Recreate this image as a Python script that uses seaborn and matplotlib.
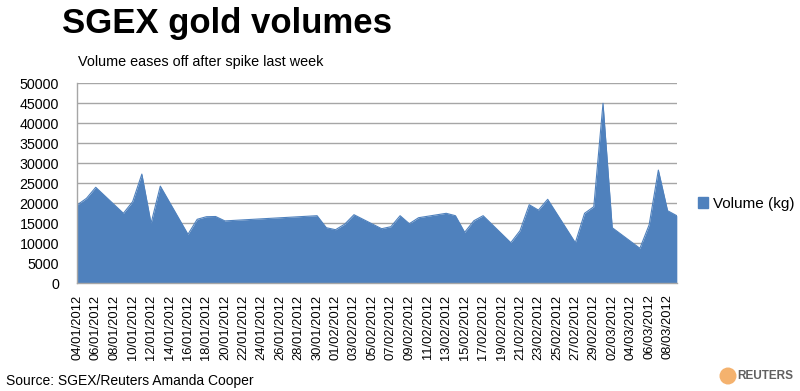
import matplotlib
matplotlib.use("Agg")
import matplotlib.pyplot as plt
from matplotlib.patches import Patch, Ellipse
import seaborn as sns
import pandas as pd

# ---- data ----
dates = [
    "2012-01-04", "2012-01-05", "2012-01-06", "2012-01-09", "2012-01-10",
    "2012-01-11", "2012-01-12", "2012-01-13", "2012-01-16", "2012-01-17",
    "2012-01-18", "2012-01-19", "2012-01-20", "2012-01-30", "2012-01-31",
    "2012-02-01", "2012-02-02", "2012-02-03", "2012-02-06", "2012-02-07",
    "2012-02-08", "2012-02-09", "2012-02-10", "2012-02-13", "2012-02-14",
    "2012-02-15", "2012-02-16", "2012-02-17", "2012-02-20", "2012-02-21",
    "2012-02-22", "2012-02-23", "2012-02-24", "2012-02-27", "2012-02-28",
    "2012-02-29", "2012-03-01", "2012-03-02", "2012-03-05", "2012-03-06",
    "2012-03-07", "2012-03-08", "2012-03-09",
]
volume_kg = [
    19600, 21250, 24000, 17500, 20400,
    27300, 15000, 24300, 12250, 16000,
    16650, 16700, 15600, 16900, 13900,
    13400, 14800, 17150, 13650, 14150,
    16900, 14900, 16400, 17500, 16900,
    12750, 15650, 16900, 10150, 13150,
    19650, 18300, 21000, 10150, 17500,
    19150, 45000, 13900, 8750, 14600,
    28300, 18150, 16900,
]
series_label = "Volume (kg)"
title = "SGEX gold volumes"
subtitle = "Volume eases off after spike last week"
source = "Source: SGEX/Reuters Amanda Cooper"
brand = "REUTERS"
y_ticks = list(range(0, 50001, 5000))
x_tick_start, x_tick_end = "2012-01-04", "2012-03-08"

df = pd.DataFrame({"date": pd.to_datetime(dates), "volume": volume_kg})

# ---- style ----
sns.set_style("white")
plt.rcParams["font.family"] = ["Liberation Sans", "DejaVu Sans"]
plt.rcParams["text.color"] = "black"

blue = "#4F81BD"
grid = "#A6A6A6"

fig = plt.figure(figsize=(8.0, 3.91), dpi=100)
ax = fig.add_axes([0.0966, 0.2754, 0.846 - 0.0966, 0.787 - 0.2754])

sns.lineplot(data=df, x="date", y="volume", ax=ax, color=blue, linewidth=0.8)
ax.fill_between(df["date"], df["volume"], 0, color=blue, linewidth=0)

ax.set_xlim(df["date"].iloc[0], df["date"].iloc[-1])
ax.set_ylim(0, 50000)
ax.set_yticks(y_ticks)
ax.set_yticklabels([str(v) for v in y_ticks], fontsize=10.3)

xt = pd.date_range(x_tick_start, x_tick_end, freq="2D")
ax.set_xticks(xt)
ax.set_xticklabels([d.strftime("%d/%m/%Y") for d in xt], rotation=90, fontsize=9.3)

ax.set_xlabel("")
ax.set_ylabel("")
ax.yaxis.grid(True, color=grid, linewidth=1)
ax.set_axisbelow(True)
for s in ["top", "right"]:
    ax.spines[s].set_visible(False)
for s in ["left", "bottom"]:
    ax.spines[s].set_color(grid)
    ax.spines[s].set_linewidth(1)
ax.tick_params(axis="both", which="major", direction="out", length=5,
               color=grid, width=1, labelcolor="black")
ax.tick_params(axis="y", pad=8)
ax.tick_params(axis="x", pad=3)

fig.text(0.284, 0.941, title, fontsize=25, fontweight="bold", ha="center",
         va="center", color="black")
fig.text(0.0975, 0.842, subtitle, fontsize=10.4, ha="left", va="center", color="black")
fig.text(0.008, 0.025, source, fontsize=10, ha="left", va="center", color="black")
fig.text(0.992, 0.038, brand, fontsize=8.5, fontweight="bold", color="#606060",
         ha="right", va="center")
fig.patches.append(Ellipse((728 / 800, 1 - 376 / 391), 17 / 800, 17 / 391,
                           transform=fig.transFigure, facecolor="#F4B26E",
                           edgecolor="none", figure=fig))

fig.legend(handles=[Patch(facecolor=blue, edgecolor=blue, label=series_label)],
           loc="center left", bbox_to_anchor=(0.872, 1 - 204 / 391),
           frameon=False, fontsize=11, handlelength=0.7, handleheight=0.7,
           handletextpad=0.3, borderpad=0, borderaxespad=0)

fig.savefig("out.png", dpi=100)
